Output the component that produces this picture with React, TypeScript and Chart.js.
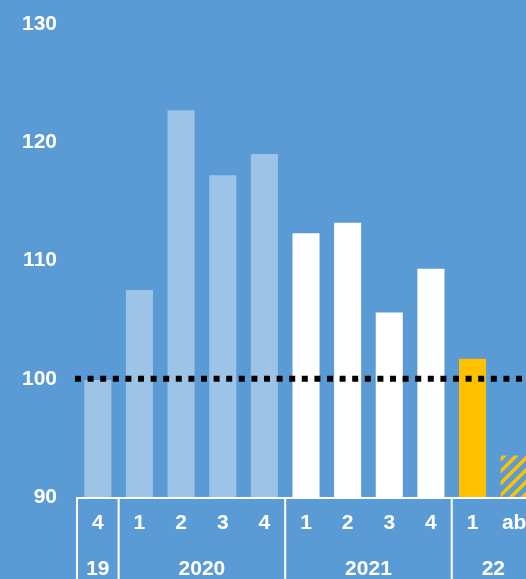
import React, { useEffect, useRef } from "react";
import { Chart, registerables } from "chart.js";

Chart.register(...registerables);

// ---- data ----
const quarters = ["4", "1", "2", "3", "4", "1", "2", "3", "4", "1", "ab"];
const values = [99.9, 107.5, 122.7, 117.2, 119.0, 112.3, 113.2, 105.6, 109.3, 101.7, 93.5];
const yearLabels = ["19", "2020", "2021", "22"];
const yearSpans = [1, 4, 4, 2];
const referenceLevel = 100;
const yMin = 90;
const yMax = 130;
const yStep = 10;

// ---- styles ----
const BG = "#5B9BD5";
const LIGHT = "#9DC3E6";
const WHITE = "#FFFFFF";
const YELLOW = "#FFC000";
const FONT_FAMILY = "'Liberation Sans', Arial, sans-serif";
const FONT_SIZE = 21;

function makeHatch(): CanvasPattern | string {
  const c = document.createElement("canvas");
  const s = 12;
  c.width = s;
  c.height = s;
  const ctx = c.getContext("2d");
  if (!ctx) return YELLOW;
  ctx.strokeStyle = YELLOW;
  ctx.lineWidth = 3.6;
  ctx.beginPath();
  ctx.moveTo(-2, s + 2);
  ctx.lineTo(s + 2, -2);
  ctx.moveTo(-2, 2);
  ctx.lineTo(2, -2);
  ctx.moveTo(s - 2, s + 2);
  ctx.lineTo(s + 2, s - 2);
  ctx.stroke();
  return ctx.createPattern(c, "repeat") || YELLOW;
}

const overlayPlugin = {
  id: "overlay",
  afterDatasetsDraw(chart: any) {
    const { ctx, chartArea, scales } = chart;
    const y = scales.y;
    const yRef = y.getPixelForValue(referenceLevel);
    ctx.save();
    ctx.strokeStyle = "#000000";
    ctx.lineWidth = 6;
    ctx.setLineDash([6, 6.6]);
    ctx.beginPath();
    ctx.moveTo(chartArea.left - 2, yRef);
    ctx.lineTo(chart.width, yRef);
    ctx.stroke();
    ctx.restore();
  },
  afterDraw(chart: any) {
    const { ctx, chartArea, scales } = chart;
    const x = scales.x;
    const bottom = chartArea.bottom;
    const H = chart.height;
    const half = (x.getPixelForValue(1) - x.getPixelForValue(0)) / 2;
    ctx.save();
    ctx.strokeStyle = WHITE;
    ctx.lineWidth = 2;
    ctx.beginPath();
    ctx.moveTo(chartArea.left, bottom + 1);
    ctx.lineTo(chart.width, bottom + 1);
    ctx.stroke();
    let idx = 0;
    ctx.fillStyle = WHITE;
    ctx.font = `bold ${FONT_SIZE}px ${FONT_FAMILY}`;
    ctx.textAlign = "center";
    ctx.textBaseline = "middle";
    yearLabels.forEach((lab, g) => {
      const start = x.getPixelForValue(idx) - half;
      const end = x.getPixelForValue(idx + yearSpans[g] - 1) + half;
      ctx.beginPath();
      ctx.moveTo(start, bottom);
      ctx.lineTo(start, H);
      ctx.stroke();
      ctx.fillText(lab, (start + end) / 2, 569);
      idx += yearSpans[g];
    });
    ctx.restore();
  },
};

export default function App() {
  const ref = useRef<HTMLCanvasElement | null>(null);
  useEffect(() => {
    document.body.style.margin = "0";
    document.body.style.overflow = "hidden";
    const canvas = ref.current;
    if (!canvas) return;
    const hatch = makeHatch();
    const colors = values.map((_, i) =>
      i < 5 ? LIGHT : i < 9 ? WHITE : i === 9 ? YELLOW : hatch
    );
    const chart = new Chart(canvas, {
      type: "bar",
      data: {
        labels: quarters,
        datasets: [
          {
            data: values.map((v) => [yMin, v]) as any,
            backgroundColor: colors as any,
            borderWidth: 0,
            barPercentage: 0.65,
            categoryPercentage: 1,
          },
        ],
      },
      options: {
        animation: false,
        responsive: false,
        maintainAspectRatio: false,
        layout: { padding: { left: 18, top: 24, right: 0, bottom: 0 } },
        plugins: {
          legend: { display: false },
          tooltip: { enabled: false },
        },
        scales: {
          x: {
            grid: { display: false, drawTicks: false },
            border: { display: false },
            ticks: {
              color: WHITE,
              font: { family: FONT_FAMILY, size: FONT_SIZE, weight: "bold" },
              padding: 14,
              maxRotation: 0,
              autoSkip: false,
            },
            afterFit: (scale: any) => {
              scale.height = 82;
              scale.paddingLeft = 0;
              scale.paddingRight = 0;
            },
          },
          y: {
            min: yMin,
            max: yMax,
            grid: { display: false, drawTicks: false },
            border: { display: false },
            ticks: {
              stepSize: yStep,
              color: WHITE,
              font: { family: FONT_FAMILY, size: FONT_SIZE, weight: "bold" },
              padding: 20,
            },
            afterFit: (scale: any) => {
              scale.width = 59;
              scale.paddingTop = 0;
              scale.paddingBottom = 0;
            },
          },
        },
      },
      plugins: [overlayPlugin],
    });
    return () => chart.destroy();
  }, []);
  return (
    <div
      style={{
        position: "fixed",
        left: 0,
        top: 0,
        width: 526,
        height: 579,
        overflow: "hidden",
        background: BG,
      }}
    >
      <canvas ref={ref} width={535} height={579} style={{ display: "block" }} />
    </div>
  );
}
